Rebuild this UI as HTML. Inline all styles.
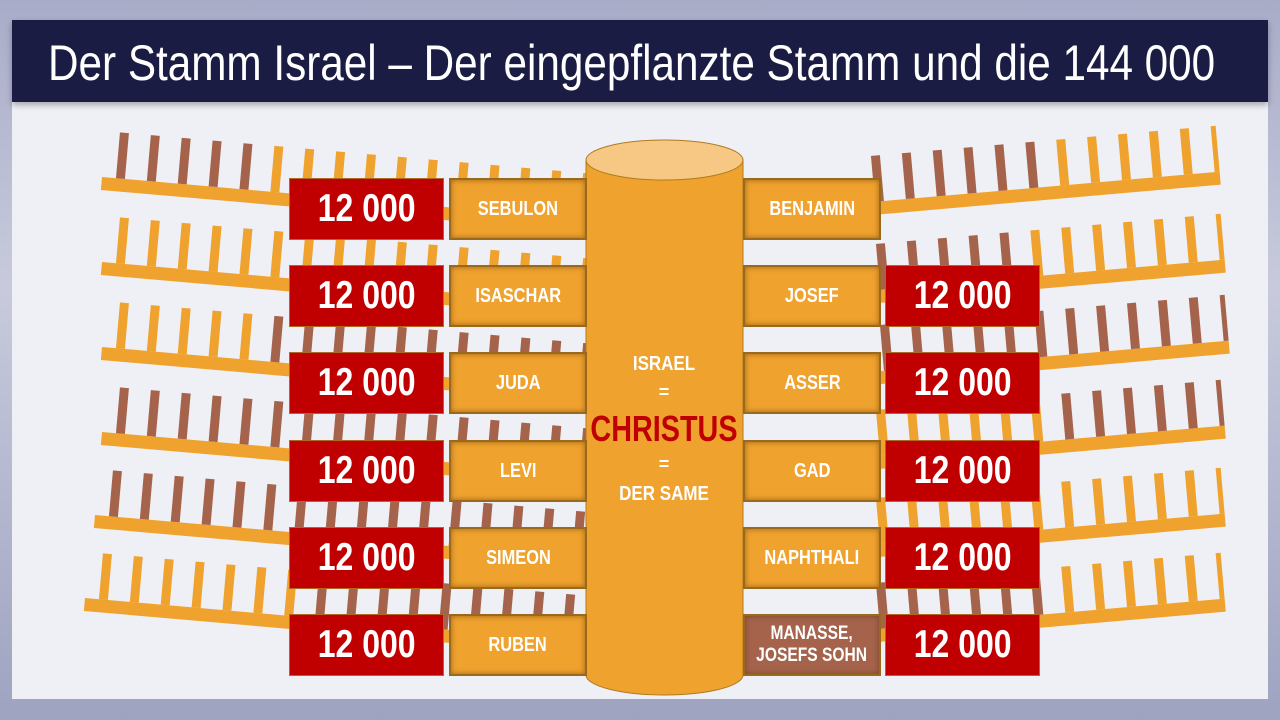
<!DOCTYPE html>
<html><head><meta charset="utf-8"><style>
html,body{margin:0;padding:0}
body{width:1280px;height:720px;overflow:hidden;background:linear-gradient(180deg,#a9acc8 0%,#c8cadc 40%,#9ea3c0 100%);position:relative;font-family:"Liberation Sans",sans-serif}
.panel{position:absolute;left:12px;top:100px;width:1256px;height:599px;background:#eef0f6}
.title{position:absolute;left:12px;top:20px;width:1256px;height:82px;background:#1b1c44;color:#fff;box-shadow:0 3px 6px rgba(0,0,0,.3)}
.title span{position:absolute;left:36px;top:14px;font-size:50px;white-space:nowrap;transform-origin:0 0;transform:scaleX(0.845)}
.b{position:absolute;height:62px;display:flex;align-items:center;justify-content:center;color:#fff;font-weight:bold;text-align:center;box-sizing:border-box}
.r{background:#c00000;border:1px solid #b06a20;font-size:39px;width:155px}
.r span,.n span{display:inline-block;transform:scaleX(0.82);white-space:nowrap}
.n{background:#efa22e;border:2px solid #9a6a1c;font-size:20px;width:138px;box-shadow:inset 0 0 6px rgba(80,40,0,.5)}
</style></head><body>
<div class="panel"></div>
<svg style="position:absolute;left:0;top:0" width="1280" height="720">
<defs>
<pattern id="pb" patternUnits="userSpaceOnUse" width="31" height="50" x="14" y="-46"><rect width="9" height="50" fill="#a5634b"/></pattern>
<pattern id="po" patternUnits="userSpaceOnUse" width="31" height="50" x="14" y="-46"><rect width="9" height="50" fill="#f0a22e"/></pattern>
</defs>
<g fill="#f0a22e">
<g transform="translate(102,177) rotate(5)"><rect width="520" height="13"/><rect x="0" y="-46" width="155" height="46" fill="url(#pb)"/><rect x="155" y="-46" width="365" height="46" fill="url(#po)"/></g>
<g transform="translate(102,262) rotate(5)"><rect width="520" height="13"/><rect x="0" y="-46" width="520" height="46" fill="url(#po)"/></g>
<g transform="translate(102,347) rotate(5)"><rect width="520" height="13"/><rect x="0" y="-46" width="155" height="46" fill="url(#po)"/><rect x="155" y="-46" width="365" height="46" fill="url(#pb)"/></g>
<g transform="translate(102,432) rotate(5)"><rect width="520" height="13"/><rect x="0" y="-46" width="520" height="46" fill="url(#pb)"/></g>
<g transform="translate(95,515) rotate(5)"><rect width="520" height="13"/><rect x="0" y="-46" width="520" height="46" fill="url(#pb)"/></g>
<g transform="translate(85,598) rotate(5)"><rect width="520" height="13"/><rect x="0" y="-46" width="220" height="46" fill="url(#po)"/><rect x="220" y="-46" width="300" height="46" fill="url(#pb)"/></g>
</g>
<g fill="#f0a22e">
<g transform="translate(861,203) rotate(-5)"><rect width="360" height="13"/><rect x="0" y="-46" width="200" height="46" fill="url(#pb)"/><rect x="200" y="-46" width="160" height="46" fill="url(#po)"/></g>
<g transform="translate(866,291) rotate(-5)"><rect width="360" height="13"/><rect x="0" y="-46" width="150" height="46" fill="url(#pb)"/><rect x="150" y="-46" width="210" height="46" fill="url(#po)"/></g>
<g transform="translate(870,372) rotate(-5)"><rect width="360" height="13"/><rect x="0" y="-46" width="360" height="46" fill="url(#pb)"/></g>
<g transform="translate(866,457) rotate(-5)"><rect width="360" height="13"/><rect x="0" y="-46" width="200" height="46" fill="url(#po)"/><rect x="200" y="-46" width="160" height="46" fill="url(#pb)"/></g>
<g transform="translate(866,545) rotate(-5)"><rect width="360" height="13"/><rect x="0" y="-46" width="360" height="46" fill="url(#po)"/></g>
<g transform="translate(866,630) rotate(-5)"><rect width="360" height="13"/><rect x="0" y="-46" width="180" height="46" fill="url(#pb)"/><rect x="180" y="-46" width="180" height="46" fill="url(#po)"/></g>
</g>
<path d="M586,160 L586,675 A78.5,20 0 0 0 743,675 L743,160 Z" fill="#efa22e" stroke="#b07a20" stroke-width="1"/>
<ellipse cx="664.5" cy="160" rx="78.5" ry="20" fill="#f6c883" stroke="#b07a20" stroke-width="1"/>
<g font-family="Liberation Sans,sans-serif" font-weight="bold" text-anchor="middle" fill="#fff">
<text x="664" y="370" font-size="20" transform="translate(664,0) scale(0.85,1) translate(-664,0)">ISRAEL</text>
<text x="664" y="398" font-size="18">=</text>
<text x="664" y="441" font-size="36" fill="#c00000" transform="translate(664,0) scale(0.8,1) translate(-664,0)">CHRISTUS</text>
<text x="664" y="470" font-size="18">=</text>
<text x="664" y="500" font-size="20" transform="translate(664,0) scale(0.85,1) translate(-664,0)">DER SAME</text>
</g>
</svg>
<div class="title"><span>Der Stamm Israel – Der eingepflanzte Stamm und die 144 000</span></div>

<div class="b r" style="left:289px;top:178px"><span>12 000</span></div>
<div class="b r" style="left:289px;top:265px"><span>12 000</span></div>
<div class="b r" style="left:289px;top:352px"><span>12 000</span></div>
<div class="b r" style="left:289px;top:440px"><span>12 000</span></div>
<div class="b r" style="left:289px;top:527px"><span>12 000</span></div>
<div class="b r" style="left:289px;top:614px"><span>12 000</span></div>

<div class="b n" style="left:449px;top:178px"><span>SEBULON</span></div>
<div class="b n" style="left:449px;top:265px"><span>ISASCHAR</span></div>
<div class="b n" style="left:449px;top:352px"><span>JUDA</span></div>
<div class="b n" style="left:449px;top:440px"><span>LEVI</span></div>
<div class="b n" style="left:449px;top:527px"><span>SIMEON</span></div>
<div class="b n" style="left:449px;top:614px"><span>RUBEN</span></div>

<div class="b n" style="left:743px;top:178px"><span>BENJAMIN</span></div>
<div class="b n" style="left:743px;top:265px"><span>JOSEF</span></div>
<div class="b n" style="left:743px;top:352px"><span>ASSER</span></div>
<div class="b n" style="left:743px;top:440px"><span>GAD</span></div>
<div class="b n" style="left:743px;top:527px"><span>NAPHTHALI</span></div>
<div class="b n" style="left:743px;top:614px;background:#a5634b;line-height:1.15;font-size:19px"><span>MANASSE,<br>JOSEFS SOHN</span></div>

<div class="b r" style="left:885px;top:265px"><span>12 000</span></div>
<div class="b r" style="left:885px;top:352px"><span>12 000</span></div>
<div class="b r" style="left:885px;top:440px"><span>12 000</span></div>
<div class="b r" style="left:885px;top:527px"><span>12 000</span></div>
<div class="b r" style="left:885px;top:614px"><span>12 000</span></div>
</body></html>
